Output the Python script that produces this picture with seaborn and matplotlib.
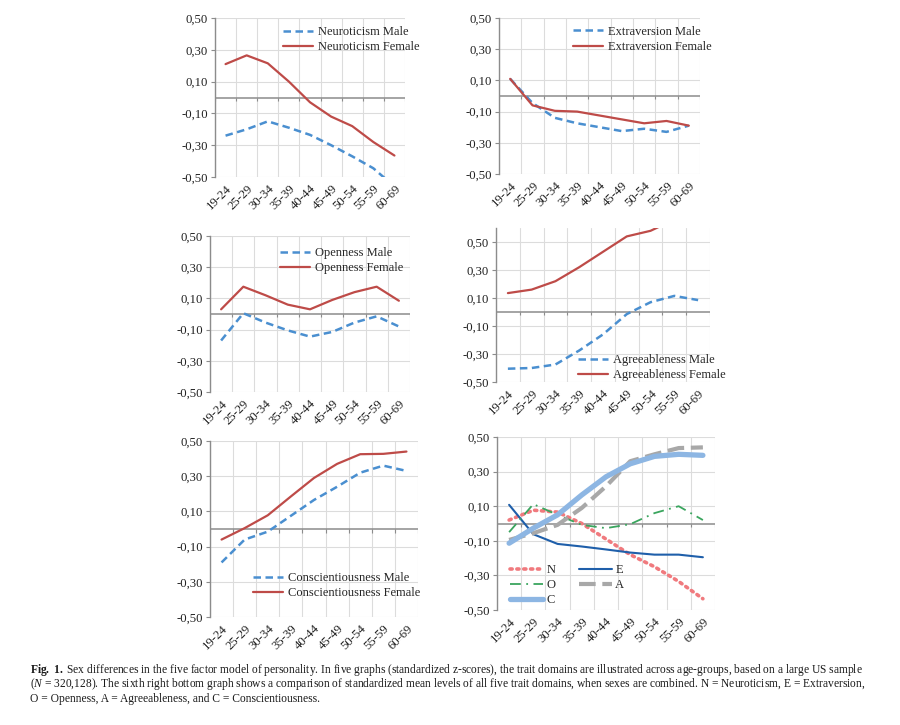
import numpy as np
import matplotlib
matplotlib.use("Agg")
import matplotlib.pyplot as plt
import seaborn as sns

sns.set_style("white")
plt.rcParams["font.family"] = ["Liberation Serif", "DejaVu Serif"]
plt.rcParams["mathtext.fontset"] = "custom"
plt.rcParams["mathtext.rm"] = "Liberation Serif"
plt.rcParams["mathtext.it"] = "Liberation Serif:italic"
plt.rcParams["mathtext.bf"] = "Liberation Serif:bold"

# ---------------- data ----------------
ages = ["19-24", "25-29", "30-34", "35-39", "40-44", "45-49", "50-54", "55-59", "60-69"]

neuro_male = [-0.24, -0.20, -0.15, -0.19, -0.235, -0.30, -0.37, -0.445, -0.56]
neuro_female = [0.21, 0.265, 0.215, 0.10, -0.03, -0.12, -0.18, -0.28, -0.365]
extra_male = [0.11, -0.045, -0.14, -0.175, -0.20, -0.225, -0.21, -0.23, -0.19]
extra_female = [0.11, -0.06, -0.095, -0.10, -0.125, -0.15, -0.175, -0.16, -0.19]
open_male = [-0.17, 0.005, -0.055, -0.105, -0.145, -0.115, -0.055, -0.015, -0.08]
open_female = [0.03, 0.175, 0.12, 0.06, 0.03, 0.09, 0.14, 0.175, 0.085]
agree_male = [-0.405, -0.40, -0.375, -0.275, -0.16, -0.015, 0.07, 0.115, 0.085]
agree_female = [0.135, 0.16, 0.22, 0.32, 0.43, 0.54, 0.58, 0.66, 0.70]
consc_male = [-0.19, -0.06, -0.015, 0.075, 0.165, 0.24, 0.32, 0.36, 0.33]
consc_female = [-0.06, 0.005, 0.078, 0.185, 0.29, 0.37, 0.425, 0.427, 0.44]

all_N = [0.02, 0.077, 0.066, 0.0, -0.09, -0.18, -0.25, -0.335, -0.435]
all_E = [0.108, -0.062, -0.118, -0.133, -0.15, -0.168, -0.18, -0.18, -0.195]
all_O = [-0.05, 0.112, 0.05, -0.008, -0.027, -0.004, 0.06, 0.10, 0.02]
all_A = [-0.095, -0.056, -0.008, 0.09, 0.215, 0.36, 0.40, 0.436, 0.44]
all_C = [-0.114, -0.027, 0.05, 0.165, 0.27, 0.345, 0.388, 0.40, 0.394]

ytick_values = [-0.5, -0.3, -0.1, 0.1, 0.3, 0.5]
ytick_labels = ["-0,50", "-0,30", "-0,10", "0,10", "0,30", "0,50"]

caption_lines = [
    r"$\mathbf{Fig.\ 1.}$ Sex differences in the five factor model of personality. In five graphs (standardized z-scores), the trait domains are illustrated across age-groups, based on a large US sample",
    r"($N$ = 320,128). The sixth right bottom graph shows a comparison of standardized mean levels of all five trait domains, when sexes are combined. N = Neuroticism, E = Extraversion,",
    "O = Openness, A = Agreeableness, and C = Conscientiousness.",
]

# ---------------- style ----------------
MALE_C = "#4A8FD0"
FEMALE_C = "#BE4B48"
GRID_C = "#DCDCDC"
AXIS_C = "#8C8C8C"
TXT_C = "#222222"
TICK_FS = 9.2
LEG_FS = 9

W, H = 900, 725
fig = plt.figure(figsize=(W / 100, H / 100), dpi=100)


def rect(x0, x1, y0, y1):
    return [x0 / W, 1 - y1 / H, (x1 - x0) / W, (y1 - y0) / H]


def style_axes(ax, ylim=(-0.5, 0.5)):
    ax.set_xlim(-0.5, len(ages) - 0.5)
    ax.set_ylim(*ylim)
    ax.set_yticks(ytick_values)
    ax.set_yticklabels(ytick_labels)
    ax.set_xticks(range(len(ages)))
    ax.set_xticklabels(ages, rotation=45, ha="right", rotation_mode="anchor")
    ax.set_xticks(np.arange(-0.5, len(ages), 1.0), minor=True)
    ax.tick_params(axis="x", which="both", length=0, pad=4, labelsize=TICK_FS, colors=TXT_C)
    ax.tick_params(axis="y", which="major", length=3, width=0.8, color=AXIS_C,
                   labelsize=TICK_FS, labelcolor=TXT_C, pad=2, left=True)
    ax.grid(False)
    ax.grid(axis="y", which="major", color=GRID_C, lw=0.8)
    ax.grid(axis="x", which="minor", color=GRID_C, lw=0.8)
    ax.set_axisbelow(True)
    for s in ["top", "right", "bottom"]:
        ax.spines[s].set_visible(False)
    ax.spines["left"].set_color(AXIS_C)
    ax.spines["left"].set_linewidth(1.0)
    ax.axhline(0, color=AXIS_C, lw=1.1, zorder=1.5)
    ax.vlines(np.arange(-0.5, len(ages), 1.0), -0.02, 0, color=AXIS_C, lw=0.8, zorder=1.5)
    ax.set_xlabel("")
    ax.set_ylabel("")


def sex_panel(r, male, female, name, leg_anchor, ylim=(-0.5, 0.5)):
    ax = fig.add_axes(r)
    sns.lineplot(x=ages, y=male, ax=ax, sort=False, color=MALE_C, lw=1.8,
                 linestyle=(0, (3, 1.8)), label=f"{name} Male")
    sns.lineplot(x=ages, y=female, ax=ax, sort=False, color=FEMALE_C, lw=1.6,
                 label=f"{name} Female")
    style_axes(ax, ylim)
    ax.legend(loc="upper left", bbox_to_anchor=leg_anchor, frameon=False, fontsize=LEG_FS,
              handlelength=2.4, handletextpad=0.4, labelspacing=0.25,
              borderpad=0, borderaxespad=0)
    return ax


sex_panel(rect(215, 405, 18, 177), neuro_male, neuro_female, "Neuroticism", (0.358, 0.95))
sex_panel(rect(499, 700, 18, 174), extra_male, extra_female, "Extraversion", (0.368, 0.95))
sex_panel(rect(210, 410, 236, 392), open_male, open_female, "Openness", (0.35, 0.93))
sex_panel(rect(496, 710, 228, 382), agree_male, agree_female, "Agreeableness", (0.383, 0.18),
          ylim=(-0.5, 0.6))
sex_panel(rect(210, 418, 441, 617), consc_male, consc_female, "Conscientiousness", (0.207, 0.255))

# combined panel
ax6 = fig.add_axes(rect(497, 715, 437, 610))
sns.lineplot(x=ages, y=all_N, ax=ax6, sort=False, color="#F07A7E", lw=2.6,
             linestyle=(0, (0.6, 1.3)), dash_capstyle="round", label="N")
sns.lineplot(x=ages, y=all_E, ax=ax6, sort=False, color="#1F5FAA", lw=1.5, label="E")
sns.lineplot(x=ages, y=all_O, ax=ax6, sort=False, color="#3AA55E", lw=1.3,
             linestyle=(0, (6, 3, 1, 3)), label="O")
sns.lineplot(x=ages, y=all_A, ax=ax6, sort=False, color="#A8A8A8", lw=3.0,
             linestyle=(0, (4, 1.6)), label="A")
sns.lineplot(x=ages, y=all_C, ax=ax6, sort=False, color="#8DB6E3", lw=3.8, label="C")
style_axes(ax6)
h, l = ax6.get_legend_handles_labels()
order = [0, 2, 4, 1, 3]
ax6.legend([h[i] for i in order], [l[i] for i in order], ncol=2, loc="upper left",
           bbox_to_anchor=(0.06, 0.265), frameon=False, fontsize=LEG_FS,
           handlelength=2.6, handletextpad=0.3, labelspacing=0.25,
           columnspacing=1.9, borderpad=0, borderaxespad=0)

# caption
for i, line in enumerate(caption_lines):
    fig.text(30 / W, 1 - (670 + i * 14.5) / H, line, fontsize=8.3, color="#1a1a1a",
             ha="left", va="center")

fig.savefig("out.png", dpi=100, facecolor="white")
